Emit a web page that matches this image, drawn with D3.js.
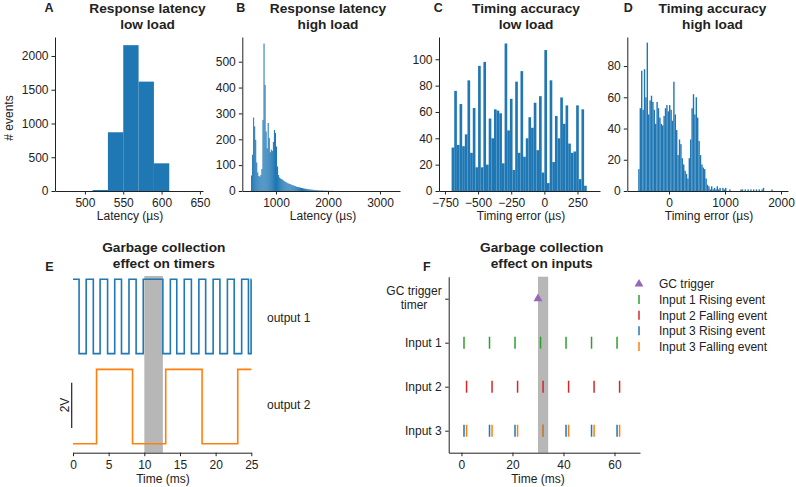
<!DOCTYPE html>
<html><head><meta charset="utf-8">
<script src="https://cdn.jsdelivr.net/npm/d3@7"></script>
<style>
body{margin:0;background:#fff;}
svg text{font-family:"Liberation Sans",Arial,sans-serif;fill:#222;}
</style></head><body>
<svg id="fig" width="796" height="487"></svg>
<script>
// ---------------- DATA ----------------
// A: response latency, low load (bin lower edges, width 20 µs)
const latLowEdges = [510, 530, 550, 570, 590];
const latLowWidth = 20;
const latLowCounts = [15, 870, 2160, 1620, 410];

// B: response latency, high load (bins of 20 µs starting at 520 µs)
const latHighStart = 520, latHighWidth = 20;
const latHighCounts = [60,140,284,250,198,110,72,58,55,62,85,275,570,410,230,165,263,205,150,160,
  155,190,236,225,172,95,62,52,48,46,43,40,37,35,32,30,28,27,25,23,
  22,20,19,17,16,15,14,13,12,11,10,9,9,8,7,7,6,6,5,5,
  4,4,3,3,3,2,2,2,2,2,1,2,1,1,1,1,0,1,1,0];

// C: timing accuracy, low load (bins of 20 µs starting at -700 µs)
const accLowStart = -700, accLowWidth = 20;
const accLowCounts = [33,76,35,66,34,43,84,29,63,18,95,18,98,20,55,40,62,61,59,21,
  112,46,70,16,83,29,91,26,40,56,48,67,31,72,14,107,6,84,22,57,
  40,71,51,65,36,29,30,65,9,62,4];

// D: timing accuracy, high load (bins of 25 µs starting at -550 µs)
const accHighStart = -550, accHighWidth = 25;
const accHighCounts = [14,53,77,52,78,60,95,49,58,61,57,52,43,57,53,47,43,42,48,53,
  55,51,55,52,45,70,49,39,23,33,30,21,17,13,11,8,21,33,53,62,
  49,60,47,32,23,17,15,14,8,4,3,1,3,1,2,1,3,1,2,0,
  2,1,2,0,0,1,0,0,0,0,0,0,0,1,1,0,1,0,1,0,
  1,0,1,0,1,0,1,0,1,2,0,0,0,0,0,1,0,0,0,0];

// Tick values
const latLowXTicks = [500, 550, 600, 650];
const latLowYTicks = [0, 500, 1000, 1500, 2000];
const latHighXTicks = [1000, 2000, 3000];
const latHighYTicks = [0, 100, 200, 300, 400, 500];
const accLowXTicks = [-750, -500, -250, 0, 250];
const accLowYTicks = [0, 20, 40, 60, 80, 100];
const accHighXTicks = [0, 1000, 2000];
const accHighYTicks = [0, 20, 40, 60, 80];

// E: timer outputs (transition times in ms), levels in volts
const output1StartHigh = true;
const output1Edges = [0.85,1.85,2.85,3.8,4.85,5.85,6.8,7.85,8.85,9.85,12.6,13.65,14.55,15.6,16.6,17.65,18.6,19.65,20.6,21.65,22.6,23.65,24.6,24.97];
const output1Levels = [4.0, 7.3];   // low, high (V)
const output2StartHigh = false;
const output2Edges = [3.3, 8.35, 13.0, 18.1, 23.1];
const output2Levels = [0.0, 3.3];
const timerGC = [10.0, 12.6];
const timerXTicks = [0, 5, 10, 15, 20, 25];
const timerLabels = ["output 1", "output 2"];

// F: input events (ms)
const inputRows = ["Input 3", "Input 2", "Input 1", "GC trigger\ntimer"];
const gcTrigger = [30];
const input1Rising = [1, 11, 21, 31, 41, 51, 61];
const input2Falling = [2, 12, 22, 32, 42, 52, 62];
const input3Rising = [1, 11, 21, 32, 41, 51, 61];
const input3Falling = [2, 12, 22, 32, 42, 52, 62];
const inputGC = [30, 34];
const inputXTicks = [0, 20, 40, 60];
const legendItems = ["GC trigger", "Input 1 Rising event", "Input 2 Falling event", "Input 3 Rising event", "Input 3 Falling event"];

// ---------------- STYLE ----------------
const BLUE = "#1f77b4", ORANGE = "#ff7f0e", GREEN = "#2ca02c", RED = "#d62728", PURPLE = "#9467bd";
const GRAY = "#b7b7b7", INK = "#222";
const svg = d3.select("#fig");

function styleAxis(g) {
  g.select(".domain").attr("stroke", INK).attr("stroke-width", 1);
  g.selectAll(".tick line").attr("stroke", INK).attr("stroke-width", 1);
  g.selectAll(".tick text").attr("font-size", 12).attr("fill", INK)
    .attr("font-family", '"Liberation Sans",Arial,sans-serif');
  g.attr("font-family", null).attr("font-size", null);
}

function title(cx, y, lines, size) {
  lines.forEach((l, i) => svg.append("text").attr("x", cx).attr("y", y + i * 16)
    .attr("text-anchor", "middle").attr("font-weight", "bold").attr("font-size", size || 13.7).text(l));
}
function letter(x, y, t) {
  svg.append("text").attr("x", x).attr("y", y).attr("text-anchor", "middle")
    .attr("font-weight", "bold").attr("font-size", 12.5).text(t);
}

// ---------------- HISTOGRAMS ----------------
const TOP = 37, BOT = 191;
function hist(cfg) {
  const x = d3.scaleLinear().domain(cfg.xDomain).range(cfg.xRange);
  const y = d3.scaleLinear().domain([0, cfg.yMax]).range([BOT, TOP]);
  const g = svg.append("g");
  g.selectAll("rect").data(cfg.bins).join("rect")
    .attr("x", d => x(d.x0)).attr("width", d => Math.max(0, x(d.x1) - x(d.x0)))
    .attr("y", d => y(d.c)).attr("height", d => y(0) - y(d.c))
    .attr("fill", BLUE);
  g.append("g").attr("transform", `translate(0,${BOT})`)
    .call(d3.axisBottom(x).tickValues(cfg.xTicks).tickFormat(d3.format("d")).tickSize(3.5).tickPadding(4).tickSizeOuter(0))
    .call(styleAxis);
  g.append("g").attr("transform", `translate(${cfg.xRange[0]},0)`)
    .call(d3.axisLeft(y).tickValues(cfg.yTicks).tickFormat(d3.format("d")).tickSize(3.5).tickPadding(3).tickSizeOuter(0))
    .call(styleAxis);
  svg.append("text").attr("x", cfg.labelX).attr("y", 219.5).attr("text-anchor", "middle")
    .attr("font-size", 12).text(cfg.xLabel);
}
function regularBins(start, width, counts) {
  return counts.map((c, i) => ({ x0: start + i * width, x1: start + (i + 1) * width, c }));
}

hist({ bins: latLowEdges.map((e, i) => ({ x0: e, x1: e + latLowWidth, c: latLowCounts[i] })),
  xDomain: [461, 654], xRange: [55, 203], yMax: 2281, xTicks: latLowXTicks, yTicks: latLowYTicks,
  xLabel: "Latency (µs)", labelX: 130 });
hist({ bins: regularBins(latHighStart, latHighWidth, latHighCounts),
  xDomain: [352, 3385], xRange: [242.3, 400], yMax: 595.5, xTicks: latHighXTicks, yTicks: latHighYTicks,
  xLabel: "Latency (µs)", labelX: 323 });
hist({ bins: regularBins(accLowStart, accLowWidth, accLowCounts),
  xDomain: [-795, 420], xRange: [439, 600], yMax: 116.9, xTicks: accLowXTicks, yTicks: accLowYTicks,
  xLabel: "Timing error (µs)", labelX: 521 });
hist({ bins: regularBins(accHighStart, accHighWidth, accHighCounts),
  xDomain: [-745, 2125], xRange: [627.3, 788], yMax: 98.6, xTicks: accHighXTicks, yTicks: accHighYTicks,
  xLabel: "Timing error (µs)", labelX: 709 });

svg.append("text").attr("transform", "translate(13,118) rotate(-90)").attr("text-anchor", "middle")
  .attr("font-size", 12).text("# events");

letter(49, 12, "A"); title(147.5, 12.5, ["Response latency", "low load"]);
letter(240.7, 12, "B"); title(328, 12.5, ["Response latency", "high load"]);
letter(438.3, 12, "C"); title(526, 12.5, ["Timing accuracy", "low load"]);
letter(628.3, 12, "D"); title(712.5, 12.5, ["Timing accuracy", "high load"]);

// ---------------- E: timers ----------------
{
  const x = d3.scaleLinear().domain([0, 25]).range([73, 251.3]);
  const y = d3.scaleLinear().domain([-0.4, 7.4]).range([452.7, 277]);
  const g = svg.append("g");
  g.append("rect").attr("x", x(timerGC[0])).attr("width", x(timerGC[1]) - x(timerGC[0]))
    .attr("y", 276).attr("height", 452.7 - 276).attr("fill", GRAY);
  function steps(startHigh, edges, levels) {
    let lvl = startHigh ? 1 : 0;
    const pts = [[0, levels[lvl]]];
    edges.forEach(t => { pts.push([t, levels[lvl]]); lvl = 1 - lvl; pts.push([t, levels[lvl]]); });
    pts.push([25, levels[lvl]]);
    return pts;
  }
  const line = d3.line().x(d => x(d[0])).y(d => y(d[1]));
  g.append("path").attr("d", line(steps(output1StartHigh, output1Edges, output1Levels)))
    .attr("fill", "none").attr("stroke", BLUE).attr("stroke-width", 1.6);
  g.append("path").attr("d", line(steps(output2StartHigh, output2Edges, output2Levels)))
    .attr("fill", "none").attr("stroke", ORANGE).attr("stroke-width", 1.6);
  g.append("g").attr("transform", "translate(0,452.7)")
    .call(d3.axisBottom(x).tickValues(timerXTicks).tickSize(3.5).tickPadding(4).tickSizeOuter(0))
    .call(styleAxis);
  // 2V scale bar
  g.append("line").attr("x1", 71.7).attr("x2", 71.7).attr("y1", y(0.7)).attr("y2", y(2.7))
    .attr("stroke", INK).attr("stroke-width", 1.2);
  svg.append("text").attr("transform", "translate(68.5,405) rotate(-90)").attr("text-anchor", "middle")
    .attr("font-size", 12).text("2V");
  svg.append("text").attr("x", 267).attr("y", 322).attr("font-size", 12).text(timerLabels[0]);
  svg.append("text").attr("x", 267).attr("y", 408.5).attr("font-size", 12).text(timerLabels[1]);
  svg.append("text").attr("x", 163).attr("y", 482.5).attr("text-anchor", "middle").attr("font-size", 12).text("Time (ms)");
  letter(49.3, 270.7, "E");
  title(163.8, 251.5, ["Garbage collection", "effect on timers"]);
}

// ---------------- F: inputs ----------------
{
  const x = d3.scaleLinear().domain([-5, 70]).range([448.7, 640]);
  const y = d3.scaleLinear().domain([-0.5, 3.5]).range([452.7, 276.7]);
  const g = svg.append("g");
  g.append("rect").attr("x", x(inputGC[0])).attr("width", x(inputGC[1]) - x(inputGC[0]))
    .attr("y", 276.7).attr("height", 452.7 - 276.7).attr("fill", GRAY);
  function ticks(data, row, color) {
    g.append("g").selectAll("line").data(data).join("line")
      .attr("x1", d => x(d)).attr("x2", d => x(d))
      .attr("y1", y(row) - 6).attr("y2", y(row) + 6)
      .attr("stroke", color).attr("stroke-width", 1.5);
  }
  ticks(input1Rising, 2, GREEN);
  ticks(input2Falling, 1, RED);
  ticks(input3Rising, 0, BLUE);
  ticks(input3Falling, 0, ORANGE);
  const tri = d3.symbol().type(d3.symbolTriangle).size(34);
  g.selectAll("path.gc").data(gcTrigger).join("path").attr("class", "gc")
    .attr("d", tri).attr("transform", d => `translate(${x(d)},${y(3)})`).attr("fill", PURPLE);

  g.append("g").attr("transform", "translate(0,452.7)")
    .call(d3.axisBottom(x).tickValues(inputXTicks).tickSize(3.5).tickPadding(4).tickSizeOuter(0))
    .call(styleAxis);
  const ya = g.append("g").attr("transform", "translate(448.7,0)")
    .call(d3.axisLeft(y).tickValues([0, 1, 2, 3]).tickFormat(i => inputRows[i]).tickSize(3.5).tickPadding(3.5).tickSizeOuter(0))
    .call(styleAxis);
  ya.selectAll(".tick text").each(function (d) {
    const lines = inputRows[d].split("\n");
    if (lines.length > 1) {
      const t = d3.select(this);
      t.text(null).attr("dy", null);
      const t1 = t.append("tspan").attr("y", -4.5).text(lines[0]);
      const w = t1.node().getComputedTextLength();
      const xEnd = +t.attr("x");
      t1.attr("x", xEnd);
      t.append("tspan").attr("x", xEnd - w / 2).attr("y", 9.5).attr("text-anchor", "middle").text(lines[1]);
    }
  });
  svg.append("text").attr("x", x(30)).attr("y", 482.5).attr("text-anchor", "middle").attr("font-size", 12).text("Time (ms)");
  letter(426.7, 270.7, "F");
  title(541.7, 251.5, ["Garbage collection", "effect on inputs"]);

  // legend
  const colors = [PURPLE, GREEN, RED, BLUE, ORANGE];
  const lg = svg.append("g");
  legendItems.forEach((name, i) => {
    const ly = 284 + i * 15.6;
    if (i === 0) {
      lg.append("path").attr("d", tri).attr("transform", `translate(639,${ly})`).attr("fill", PURPLE);
    } else {
      lg.append("line").attr("x1", 639).attr("x2", 639).attr("y1", ly - 4.5).attr("y2", ly + 4.5)
        .attr("stroke", colors[i]).attr("stroke-width", 1.5);
    }
    lg.append("text").attr("x", 659).attr("y", ly + 4.3).attr("font-size", 12).text(name);
  });
}
</script>
</body></html>
